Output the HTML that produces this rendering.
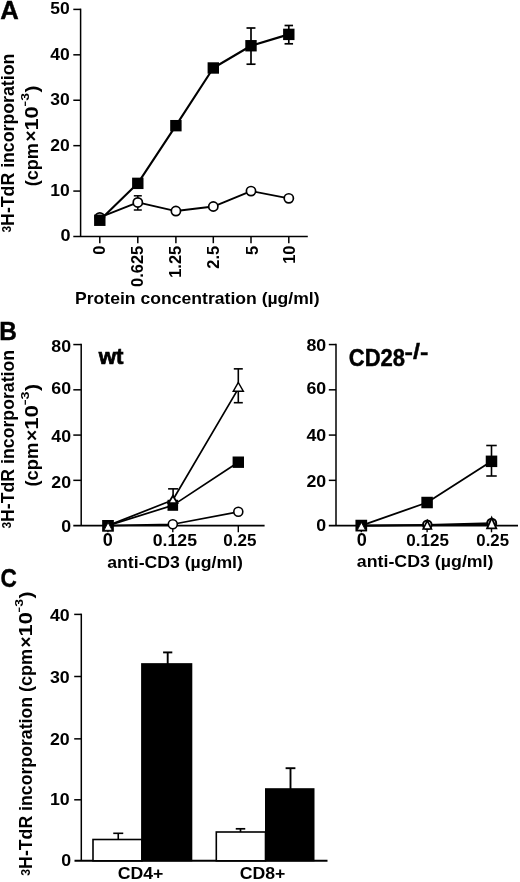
<!DOCTYPE html>
<html><head><meta charset="utf-8"><title>Figure</title>
<style>
html,body{margin:0;padding:0;background:#fff;}
svg{display:block;}
svg text{font-family:"Liberation Sans", sans-serif;font-weight:bold;fill:#000;stroke:none;}
</style></head>
<body>
<svg width="520" height="882" viewBox="0 0 520 882">
<rect x="0" y="0" width="520" height="882" fill="#fff" stroke="none"/>
<g stroke="#000">
<text x="0.16" y="18.60" font-size="25" textLength="18.54" lengthAdjust="spacingAndGlyphs" style="stroke:#000;stroke-width:0.4">A</text>
<line x1="80.60" y1="8.65" x2="80.60" y2="236.50" stroke-width="1.5"/>
<line x1="73.30" y1="236.50" x2="307.80" y2="236.50" stroke-width="1.6"/>
<line x1="73.30" y1="191.08" x2="80.60" y2="191.08" stroke-width="1.5"/>
<line x1="73.30" y1="145.66" x2="80.60" y2="145.66" stroke-width="1.5"/>
<line x1="73.30" y1="100.24" x2="80.60" y2="100.24" stroke-width="1.5"/>
<line x1="73.30" y1="54.82" x2="80.60" y2="54.82" stroke-width="1.5"/>
<line x1="73.30" y1="9.40" x2="80.60" y2="9.40" stroke-width="1.5"/>
<text x="50.19" y="196.08" font-size="16.5" textLength="19.45" lengthAdjust="spacingAndGlyphs">10</text>
<text x="50.19" y="150.66" font-size="16.5" textLength="19.45" lengthAdjust="spacingAndGlyphs">20</text>
<text x="50.19" y="105.24" font-size="16.5" textLength="19.45" lengthAdjust="spacingAndGlyphs">30</text>
<text x="50.19" y="59.82" font-size="16.5" textLength="19.45" lengthAdjust="spacingAndGlyphs">40</text>
<text x="50.19" y="14.40" font-size="16.5" textLength="19.45" lengthAdjust="spacingAndGlyphs">50</text>
<text x="60.50" y="240.70" font-size="17.2" textLength="10.04" lengthAdjust="spacingAndGlyphs">0</text>
<line x1="99.80" y1="236.50" x2="99.80" y2="243.20" stroke-width="1.5"/>
<line x1="137.80" y1="236.50" x2="137.80" y2="243.20" stroke-width="1.5"/>
<line x1="175.90" y1="236.50" x2="175.90" y2="243.20" stroke-width="1.5"/>
<line x1="213.30" y1="236.50" x2="213.30" y2="243.20" stroke-width="1.5"/>
<line x1="251.00" y1="236.50" x2="251.00" y2="243.20" stroke-width="1.5"/>
<line x1="288.80" y1="236.50" x2="288.80" y2="243.20" stroke-width="1.5"/>
<g transform="translate(105.20 246.20) rotate(-90)">
<text x="-8.50" y="0.00" font-size="16.5" textLength="9.18" lengthAdjust="spacingAndGlyphs">0</text>
</g>
<g transform="translate(143.20 246.20) rotate(-90)">
<text x="-40.84" y="0.00" font-size="16.5" textLength="41.29" lengthAdjust="spacingAndGlyphs">0.625</text>
</g>
<g transform="translate(181.30 246.20) rotate(-90)">
<text x="-31.64" y="0.00" font-size="16.5" textLength="32.12" lengthAdjust="spacingAndGlyphs">1.25</text>
</g>
<g transform="translate(218.70 246.20) rotate(-90)">
<text x="-22.48" y="0.00" font-size="16.5" textLength="22.94" lengthAdjust="spacingAndGlyphs">2.5</text>
</g>
<g transform="translate(257.60 246.20) rotate(-90)">
<text x="-8.70" y="0.00" font-size="16.5" textLength="9.18" lengthAdjust="spacingAndGlyphs">5</text>
</g>
<g transform="translate(295.40 246.20) rotate(-90)">
<text x="-17.66" y="0.00" font-size="16.5" textLength="18.35" lengthAdjust="spacingAndGlyphs">10</text>
</g>
<text x="75.06" y="303.75" font-size="16.5" textLength="244.58" lengthAdjust="spacingAndGlyphs">Protein concentration (µg/ml)</text>
<g transform="translate(13.85 232.30) rotate(-90)">
<text x="-0.27" y="-2.70" font-size="12" textLength="6.71" lengthAdjust="spacingAndGlyphs">3</text>
<text x="6.40" y="0.00" font-size="18" textLength="172.19" lengthAdjust="spacingAndGlyphs">H-TdR incorporation</text>
</g>
<g transform="translate(37.50 185.30) rotate(-90)">
<text x="-0.90" y="0.00" font-size="17.5" textLength="43.07" lengthAdjust="spacingAndGlyphs">(cpm</text>
<text x="43.77" y="-0.60" font-size="17.5" textLength="11.14" lengthAdjust="spacingAndGlyphs" font-weight="normal">×</text>
<text x="54.70" y="0.00" font-size="17.5" textLength="24.30" lengthAdjust="spacingAndGlyphs">10</text>
<text x="78.97" y="-8.80" font-size="11.5" textLength="5.30" lengthAdjust="spacingAndGlyphs">−</text>
<text x="84.47" y="-8.80" font-size="11.5" textLength="7.83" lengthAdjust="spacingAndGlyphs">3</text>
<text x="92.73" y="0.00" font-size="17.5" textLength="7.04" lengthAdjust="spacingAndGlyphs">)</text>
</g>
<polyline points="99.80,217.42 137.80,202.44 175.90,211.06 213.30,206.52 251.00,191.08 288.80,198.35" fill="none" stroke-width="1.9" stroke-linejoin="round"/>
<polyline points="99.80,220.24 137.80,183.36 175.90,125.68 213.30,67.99 251.00,45.74 288.80,34.38" fill="none" stroke-width="2.1" stroke-linejoin="round"/>
<line x1="137.80" y1="195.80" x2="137.80" y2="210.00" stroke-width="1.5"/>
<line x1="133.80" y1="195.80" x2="141.80" y2="195.80" stroke-width="1.5"/>
<line x1="133.80" y1="210.00" x2="141.80" y2="210.00" stroke-width="1.5"/>
<line x1="251.00" y1="28.00" x2="251.00" y2="64.20" stroke-width="1.7"/>
<line x1="246.50" y1="28.00" x2="255.50" y2="28.00" stroke-width="1.7"/>
<line x1="246.50" y1="64.20" x2="255.50" y2="64.20" stroke-width="1.7"/>
<line x1="288.80" y1="25.50" x2="288.80" y2="43.80" stroke-width="1.7"/>
<line x1="284.55" y1="25.50" x2="293.05" y2="25.50" stroke-width="1.7"/>
<line x1="284.55" y1="43.80" x2="293.05" y2="43.80" stroke-width="1.7"/>
<circle cx="99.80" cy="217.42" r="4.6" fill="#fff" stroke-width="1.7"/>
<circle cx="137.80" cy="202.44" r="4.6" fill="#fff" stroke-width="1.7"/>
<circle cx="175.90" cy="211.06" r="4.6" fill="#fff" stroke-width="1.7"/>
<circle cx="213.30" cy="206.52" r="4.6" fill="#fff" stroke-width="1.7"/>
<circle cx="251.00" cy="191.08" r="4.6" fill="#fff" stroke-width="1.7"/>
<circle cx="288.80" cy="198.35" r="4.6" fill="#fff" stroke-width="1.7"/>
<rect x="94.10" y="214.54" width="11.4" height="11.4" fill="#000" stroke="none"/>
<rect x="132.10" y="177.66" width="11.4" height="11.4" fill="#000" stroke="none"/>
<rect x="170.20" y="119.98" width="11.4" height="11.4" fill="#000" stroke="none"/>
<rect x="207.60" y="62.29" width="11.4" height="11.4" fill="#000" stroke="none"/>
<rect x="245.30" y="40.04" width="11.4" height="11.4" fill="#000" stroke="none"/>
<rect x="283.10" y="28.68" width="11.4" height="11.4" fill="#000" stroke="none"/>
<text x="-0.75" y="339.85" font-size="25" textLength="17.64" lengthAdjust="spacingAndGlyphs" style="stroke:#000;stroke-width:0.4">B</text>
<line x1="81.20" y1="343.81" x2="81.20" y2="525.60" stroke-width="1.5"/>
<line x1="73.30" y1="525.60" x2="264.60" y2="525.60" stroke-width="1.6"/>
<line x1="73.30" y1="480.34" x2="81.20" y2="480.34" stroke-width="1.5"/>
<line x1="73.30" y1="435.08" x2="81.20" y2="435.08" stroke-width="1.5"/>
<line x1="73.30" y1="389.82" x2="81.20" y2="389.82" stroke-width="1.5"/>
<line x1="73.30" y1="344.56" x2="81.20" y2="344.56" stroke-width="1.5"/>
<text x="61.25" y="531.60" font-size="16.6" textLength="9.88" lengthAdjust="spacingAndGlyphs">0</text>
<text x="51.39" y="487.60" font-size="16.6" textLength="19.76" lengthAdjust="spacingAndGlyphs">20</text>
<text x="51.39" y="442.00" font-size="16.6" textLength="19.76" lengthAdjust="spacingAndGlyphs">40</text>
<text x="51.39" y="394.40" font-size="16.6" textLength="19.76" lengthAdjust="spacingAndGlyphs">60</text>
<text x="51.39" y="351.50" font-size="16.6" textLength="19.76" lengthAdjust="spacingAndGlyphs">80</text>
<line x1="107.90" y1="525.60" x2="107.90" y2="532.30" stroke-width="1.4"/>
<line x1="172.80" y1="525.60" x2="172.80" y2="532.30" stroke-width="1.4"/>
<line x1="238.30" y1="525.60" x2="238.30" y2="532.30" stroke-width="1.4"/>
<text x="102.78" y="545.80" font-size="17.5" textLength="10.07" lengthAdjust="spacingAndGlyphs">0</text>
<text x="152.79" y="545.70" font-size="17" textLength="44.19" lengthAdjust="spacingAndGlyphs">0.125</text>
<text x="223.32" y="545.70" font-size="17" textLength="33.17" lengthAdjust="spacingAndGlyphs">0.25</text>
<text x="107.27" y="567.60" font-size="17" textLength="135.61" lengthAdjust="spacingAndGlyphs">anti-CD3 (µg/ml)</text>
<text x="98.66" y="363.50" font-size="21.2" textLength="24.74" lengthAdjust="spacingAndGlyphs" style="stroke:#000;stroke-width:0.7">wt</text>
<g transform="translate(14.10 528.30) rotate(-90)">
<text x="-0.27" y="-2.70" font-size="12" textLength="6.70" lengthAdjust="spacingAndGlyphs">3</text>
<text x="6.40" y="0.00" font-size="18" textLength="171.99" lengthAdjust="spacingAndGlyphs">H-TdR incorporation</text>
</g>
<g transform="translate(38.10 485.60) rotate(-90)">
<text x="-0.92" y="0.00" font-size="17.5" textLength="43.95" lengthAdjust="spacingAndGlyphs">(cpm</text>
<text x="44.66" y="-0.60" font-size="17.5" textLength="11.36" lengthAdjust="spacingAndGlyphs" font-weight="normal">×</text>
<text x="55.80" y="0.00" font-size="17.5" textLength="24.79" lengthAdjust="spacingAndGlyphs">10</text>
<text x="80.57" y="-8.80" font-size="11.5" textLength="5.41" lengthAdjust="spacingAndGlyphs">−</text>
<text x="86.18" y="-8.80" font-size="11.5" textLength="7.99" lengthAdjust="spacingAndGlyphs">3</text>
<text x="94.60" y="0.00" font-size="17.5" textLength="7.19" lengthAdjust="spacingAndGlyphs">)</text>
</g>
<polyline points="107.90,525.60 172.80,524.24 238.30,511.80" fill="none" stroke-width="1.7" stroke-linejoin="round"/>
<polyline points="107.90,525.60 172.80,505.35 238.30,462.24" fill="none" stroke-width="1.7" stroke-linejoin="round"/>
<polyline points="107.90,525.60 172.80,500.03 238.30,388.69" fill="none" stroke-width="1.7" stroke-linejoin="round"/>
<line x1="238.30" y1="368.85" x2="238.30" y2="402.70" stroke-width="1.6"/>
<line x1="233.80" y1="368.85" x2="242.80" y2="368.85" stroke-width="1.6"/>
<line x1="233.80" y1="402.70" x2="242.80" y2="402.70" stroke-width="1.6"/>
<line x1="173.10" y1="488.85" x2="173.10" y2="499.00" stroke-width="1.6"/>
<line x1="168.10" y1="488.85" x2="178.10" y2="488.85" stroke-width="1.6"/>
<rect x="102.15" y="520.00" width="11.7" height="11.7" fill="#000" stroke="none"/>
<polygon points="108.10,522.60 112.20,530.30 104.00,530.30" fill="#fff" stroke-width="0.9" stroke-linejoin="miter"/>
<circle cx="172.80" cy="524.24" r="4.5" fill="#fff" stroke-width="1.6"/>
<circle cx="238.30" cy="511.80" r="4.5" fill="#fff" stroke-width="1.6"/>
<rect x="167.50" y="499.80" width="10.6" height="11" fill="#000" stroke="none"/>
<rect x="232.60" y="456.50" width="11.4" height="11.4" fill="#000" stroke="none"/>
<polygon points="172.90,495.80 177.30,503.10 168.50,503.10" fill="#fff" stroke-width="1.8" stroke-linejoin="miter"/>
<polygon points="238.30,382.50 243.30,391.20 233.30,391.20" fill="#fff" stroke-width="1.5" stroke-linejoin="miter"/>
<line x1="336.00" y1="343.81" x2="336.00" y2="525.60" stroke-width="1.5"/>
<line x1="328.80" y1="525.60" x2="518.00" y2="525.60" stroke-width="1.6"/>
<line x1="328.80" y1="480.34" x2="336.00" y2="480.34" stroke-width="1.5"/>
<line x1="328.80" y1="435.08" x2="336.00" y2="435.08" stroke-width="1.5"/>
<line x1="328.80" y1="389.82" x2="336.00" y2="389.82" stroke-width="1.5"/>
<line x1="328.80" y1="344.56" x2="336.00" y2="344.56" stroke-width="1.5"/>
<text x="316.35" y="531.20" font-size="16.6" textLength="9.88" lengthAdjust="spacingAndGlyphs">0</text>
<text x="306.49" y="487.30" font-size="16.6" textLength="19.76" lengthAdjust="spacingAndGlyphs">20</text>
<text x="306.49" y="441.10" font-size="16.6" textLength="19.76" lengthAdjust="spacingAndGlyphs">40</text>
<text x="306.49" y="393.50" font-size="16.6" textLength="19.76" lengthAdjust="spacingAndGlyphs">60</text>
<text x="306.49" y="350.90" font-size="16.6" textLength="19.76" lengthAdjust="spacingAndGlyphs">80</text>
<line x1="361.30" y1="525.60" x2="361.30" y2="532.30" stroke-width="1.4"/>
<line x1="427.10" y1="525.60" x2="427.10" y2="532.30" stroke-width="1.4"/>
<line x1="491.50" y1="525.60" x2="491.50" y2="532.30" stroke-width="1.4"/>
<text x="356.88" y="545.80" font-size="17.5" textLength="10.07" lengthAdjust="spacingAndGlyphs">0</text>
<text x="406.32" y="545.90" font-size="17" textLength="42.65" lengthAdjust="spacingAndGlyphs">0.125</text>
<text x="476.33" y="545.90" font-size="17" textLength="32.66" lengthAdjust="spacingAndGlyphs">0.25</text>
<text x="356.87" y="567.40" font-size="17" textLength="136.62" lengthAdjust="spacingAndGlyphs">anti-CD3 (µg/ml)</text>
<text x="348.72" y="365.80" font-size="23" textLength="56.38" lengthAdjust="spacingAndGlyphs" style="stroke:#000;stroke-width:0.4">CD28</text>
<text x="404.59" y="359.30" font-size="22.5" textLength="23.86" lengthAdjust="spacingAndGlyphs" style="stroke:#000;stroke-width:0.4">-/-</text>
<polyline points="361.30,525.60 427.30,524.90 491.70,523.00" fill="none" stroke-width="1.6" stroke-linejoin="round"/>
<polyline points="361.30,525.60 427.30,525.30 491.70,524.30" fill="none" stroke-width="1.6" stroke-linejoin="round"/>
<polyline points="361.30,525.60 427.10,502.52 491.50,461.33" fill="none" stroke-width="1.8" stroke-linejoin="round"/>
<line x1="491.50" y1="445.50" x2="491.50" y2="476.00" stroke-width="1.6"/>
<line x1="486.25" y1="445.50" x2="496.75" y2="445.50" stroke-width="1.6"/>
<line x1="486.25" y1="476.00" x2="496.75" y2="476.00" stroke-width="1.6"/>
<rect x="355.45" y="519.75" width="11.7" height="11.7" fill="#000" stroke="none"/>
<polygon points="361.40,522.40 365.50,530.10 357.30,530.10" fill="#fff" stroke-width="0.9" stroke-linejoin="miter"/>
<circle cx="427.30" cy="524.70" r="4.3" fill="#fff" stroke-width="2.0"/>
<polygon points="427.30,520.60 431.40,529.00 423.20,529.00" fill="#fff" stroke-width="1.7" stroke-linejoin="miter"/>
<circle cx="491.70" cy="523.20" r="4.5" fill="#fff" stroke-width="2.0"/>
<polygon points="491.70,517.80 496.30,528.30 487.10,528.30" fill="#fff" stroke-width="1.8" stroke-linejoin="miter"/>
<rect x="421.35" y="496.77" width="11.5" height="11.5" fill="#000" stroke="none"/>
<rect x="485.75" y="455.58" width="11.5" height="11.5" fill="#000" stroke="none"/>
<text x="0.50" y="586.80" font-size="25" textLength="16.32" lengthAdjust="spacingAndGlyphs" style="stroke:#000;stroke-width:0.4">C</text>
<line x1="81.30" y1="613.65" x2="81.30" y2="860.80" stroke-width="1.5"/>
<line x1="74.50" y1="860.80" x2="327.50" y2="860.80" stroke-width="2.0"/>
<line x1="74.20" y1="799.80" x2="81.30" y2="799.80" stroke-width="1.5"/>
<line x1="74.20" y1="738.85" x2="81.30" y2="738.85" stroke-width="1.5"/>
<line x1="74.20" y1="676.50" x2="81.30" y2="676.50" stroke-width="1.5"/>
<line x1="74.20" y1="614.40" x2="81.30" y2="614.40" stroke-width="1.5"/>
<text x="61.15" y="866.10" font-size="16.6" textLength="9.88" lengthAdjust="spacingAndGlyphs">0</text>
<text x="49.99" y="805.40" font-size="16.6" textLength="19.76" lengthAdjust="spacingAndGlyphs">10</text>
<text x="49.99" y="744.85" font-size="16.6" textLength="19.76" lengthAdjust="spacingAndGlyphs">20</text>
<text x="49.99" y="683.10" font-size="16.6" textLength="19.76" lengthAdjust="spacingAndGlyphs">30</text>
<text x="49.99" y="620.80" font-size="16.6" textLength="19.76" lengthAdjust="spacingAndGlyphs">40</text>
<line x1="118.25" y1="833.30" x2="118.25" y2="840.00" stroke-width="1.6"/>
<line x1="113.25" y1="833.30" x2="123.25" y2="833.30" stroke-width="1.6"/>
<line x1="167.70" y1="652.40" x2="167.70" y2="664.00" stroke-width="1.9"/>
<line x1="163.10" y1="652.40" x2="172.30" y2="652.40" stroke-width="1.9"/>
<line x1="240.50" y1="828.80" x2="240.50" y2="832.00" stroke-width="1.7"/>
<line x1="235.75" y1="828.80" x2="245.25" y2="828.80" stroke-width="1.7"/>
<line x1="290.50" y1="768.20" x2="290.50" y2="789.00" stroke-width="1.9"/>
<line x1="285.60" y1="768.20" x2="295.40" y2="768.20" stroke-width="1.9"/>
<rect x="93" y="839.5" width="49" height="21.30" fill="#fff" stroke-width="1.6"/>
<rect x="141.1" y="663.15" width="51.20000000000002" height="198.15" fill="#000" stroke="none"/>
<rect x="216.3" y="832" width="49.19999999999999" height="28.80" fill="#fff" stroke-width="1.6"/>
<rect x="265" y="788.2" width="49.5" height="73.10" fill="#000" stroke="none"/>
<text x="117.79" y="879.20" font-size="17" textLength="45.65" lengthAdjust="spacingAndGlyphs">CD4+</text>
<text x="239.69" y="879.20" font-size="17" textLength="45.65" lengthAdjust="spacingAndGlyphs">CD8+</text>
<g transform="translate(32.10 875.40) rotate(-90)">
<text x="-0.28" y="-2.40" font-size="12" textLength="6.82" lengthAdjust="spacingAndGlyphs">3</text>
<text x="6.51" y="0.00" font-size="18" textLength="171.98" lengthAdjust="spacingAndGlyphs">H-TdR incorporation</text>
<text x="183.30" y="0.00" font-size="17.5" textLength="43.07" lengthAdjust="spacingAndGlyphs">(cpm</text>
<text x="227.97" y="-0.60" font-size="17.5" textLength="11.14" lengthAdjust="spacingAndGlyphs" font-weight="normal">×</text>
<text x="238.90" y="0.00" font-size="17.5" textLength="24.30" lengthAdjust="spacingAndGlyphs">10</text>
<text x="263.17" y="-8.80" font-size="11.5" textLength="5.30" lengthAdjust="spacingAndGlyphs">−</text>
<text x="268.67" y="-8.80" font-size="11.5" textLength="7.83" lengthAdjust="spacingAndGlyphs">3</text>
<text x="276.93" y="0.00" font-size="17.5" textLength="7.04" lengthAdjust="spacingAndGlyphs">)</text>
</g>
</g>
</svg>
</body></html>
